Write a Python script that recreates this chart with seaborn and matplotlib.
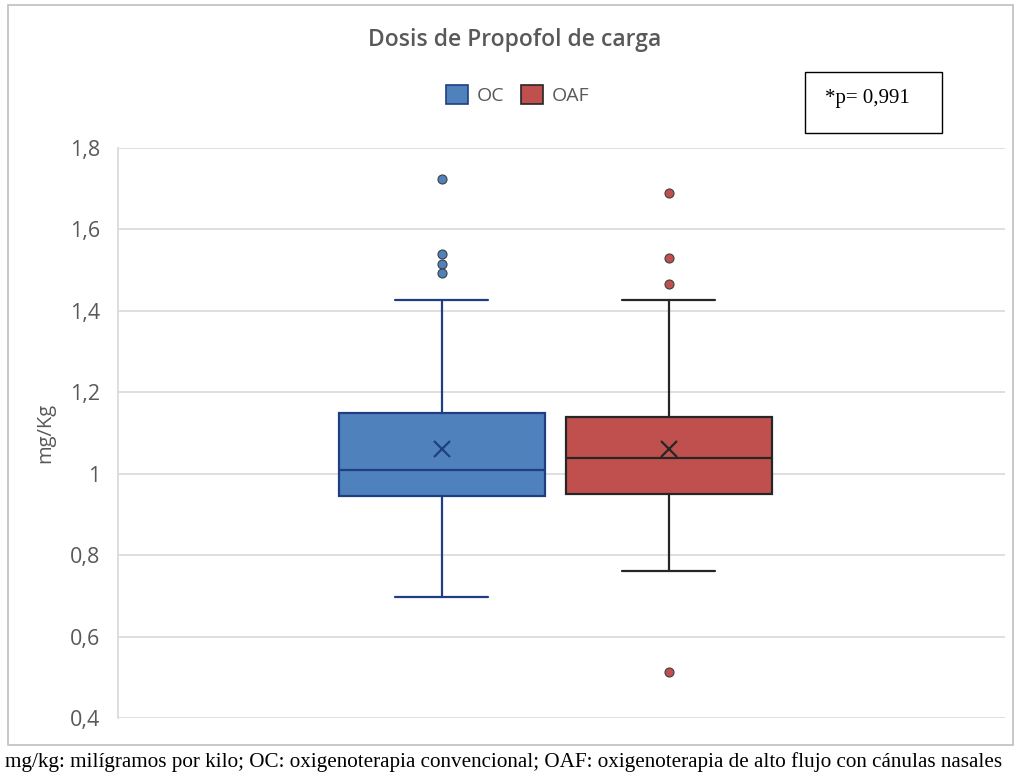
import matplotlib
matplotlib.use("Agg")
import matplotlib.pyplot as plt
import matplotlib.patches as mpatches
import seaborn as sns

# ---- data (summary statistics) ----
groups = ["OC", "OAF"]
q1 = [0.946, 0.951]
median = [1.010, 1.039]
q3 = [1.150, 1.140]
whisker_low = [0.698, 0.762]
whisker_high = [1.427, 1.427]
means = [1.061, 1.061]
outliers_oc = [1.724, 1.540, 1.515, 1.493]
outliers_oaf = [1.690, 1.530, 1.466, 0.512]
yticks = [0.4, 0.6, 0.8, 1.0, 1.2, 1.4, 1.6, 1.8]
ytick_labels = ["0,4", "0,6", "0,8", "1", "1,2", "1,4", "1,6", "1,8"]

fill_colors = ["#4F81BD", "#C0504D"]
edge_colors = ["#1F3F80", "#262626"]

sns.set_theme(style="white")
plt.rcParams["font.family"] = ["Open Sans", "DejaVu Sans"]

fig = plt.figure(figsize=(10.17, 7.78), dpi=100)
ax = fig.add_axes([0.116, 0.0771, 0.872, 0.7327])

outliers = [outliers_oc, outliers_oaf]
for i, g in enumerate(groups):
    stats = [dict(label=g, q1=q1[i], med=median[i], q3=q3[i],
                  whislo=whisker_low[i], whishi=whisker_high[i],
                  mean=means[i], fliers=outliers[i])]
    ec = edge_colors[i]
    ax.bxp(stats, positions=[i], widths=0.907, patch_artist=True,
           showmeans=True, manage_ticks=False,
           boxprops=dict(facecolor=fill_colors[i], edgecolor=ec, linewidth=1.6),
           medianprops=dict(color=ec, linewidth=1.6),
           whiskerprops=dict(color=ec, linewidth=1.6),
           capprops=dict(color=ec, linewidth=1.6),
           capwidths=0.41,
           meanprops=dict(marker="x", markeredgecolor=ec, markersize=11,
                          markeredgewidth=1.6),
           flierprops=dict(marker="o", markerfacecolor=fill_colors[i],
                           markeredgecolor="#404040", markersize=6.5,
                           markeredgewidth=0.8))

ax.set_xlim(-1.427, 2.48)
ax.set_ylim(0.4, 1.8)
ax.set_yticks(yticks)
ax.set_yticklabels(ytick_labels)
ax.set_xticks([])
ax.yaxis.grid(True, color="#D9D9D9", linewidth=1.2)
ax.set_axisbelow(True)
for s in ["top", "right", "bottom"]:
    ax.spines[s].set_visible(False)
ax.spines["left"].set_color("#D9D9D9")
ax.tick_params(axis="y", labelsize=15.5, colors="#595959", length=0, pad=13)
ax.set_ylabel("mg/Kg", fontsize=14.5, color="#595959", labelpad=10)

fig.text(0.506, 0.948, "Dosis de Propofol de carga", ha="center", va="center",
         fontsize=16.5, fontweight="semibold", color="#595959")

handles = [mpatches.Patch(facecolor=fill_colors[i], edgecolor=edge_colors[i],
                          linewidth=1.2, label=g) for i, g in enumerate(groups)]
fig.legend(handles=handles, loc="center", bbox_to_anchor=(0.509, 0.878), ncol=2,
           frameon=False, fontsize=14, handlelength=1.1, handleheight=1.1,
           handletextpad=0.45, columnspacing=0.9, labelcolor="#595959")

# p-value box
fig.patches.append(mpatches.Rectangle((805 / 1017, 1 - 133 / 778), 137 / 1017, 61 / 778,
                                      transform=fig.transFigure, fill=False,
                                      edgecolor="black", linewidth=1.0))
fig.text(825 / 1017, 1 - 98 / 778, "*p= 0,991", ha="left", va="center",
         fontsize=15, family="Liberation Serif", color="black")

# outer chart frame
fig.patches.append(mpatches.Rectangle((8 / 1017, 1 - 745 / 778), 1005 / 1017, 740 / 778,
                                      transform=fig.transFigure, fill=False,
                                      edgecolor="#BFBFBF", linewidth=1.2))

fig.text(5 / 1017, 1 - 762 / 778,
         "mg/kg: milígramos por kilo; OC: oxigenoterapia convencional; OAF: oxigenoterapia de alto flujo con cánulas nasales",
         ha="left", va="center", fontsize=15.2, family="Liberation Serif", color="black")

fig.savefig("out.png", dpi=100)
